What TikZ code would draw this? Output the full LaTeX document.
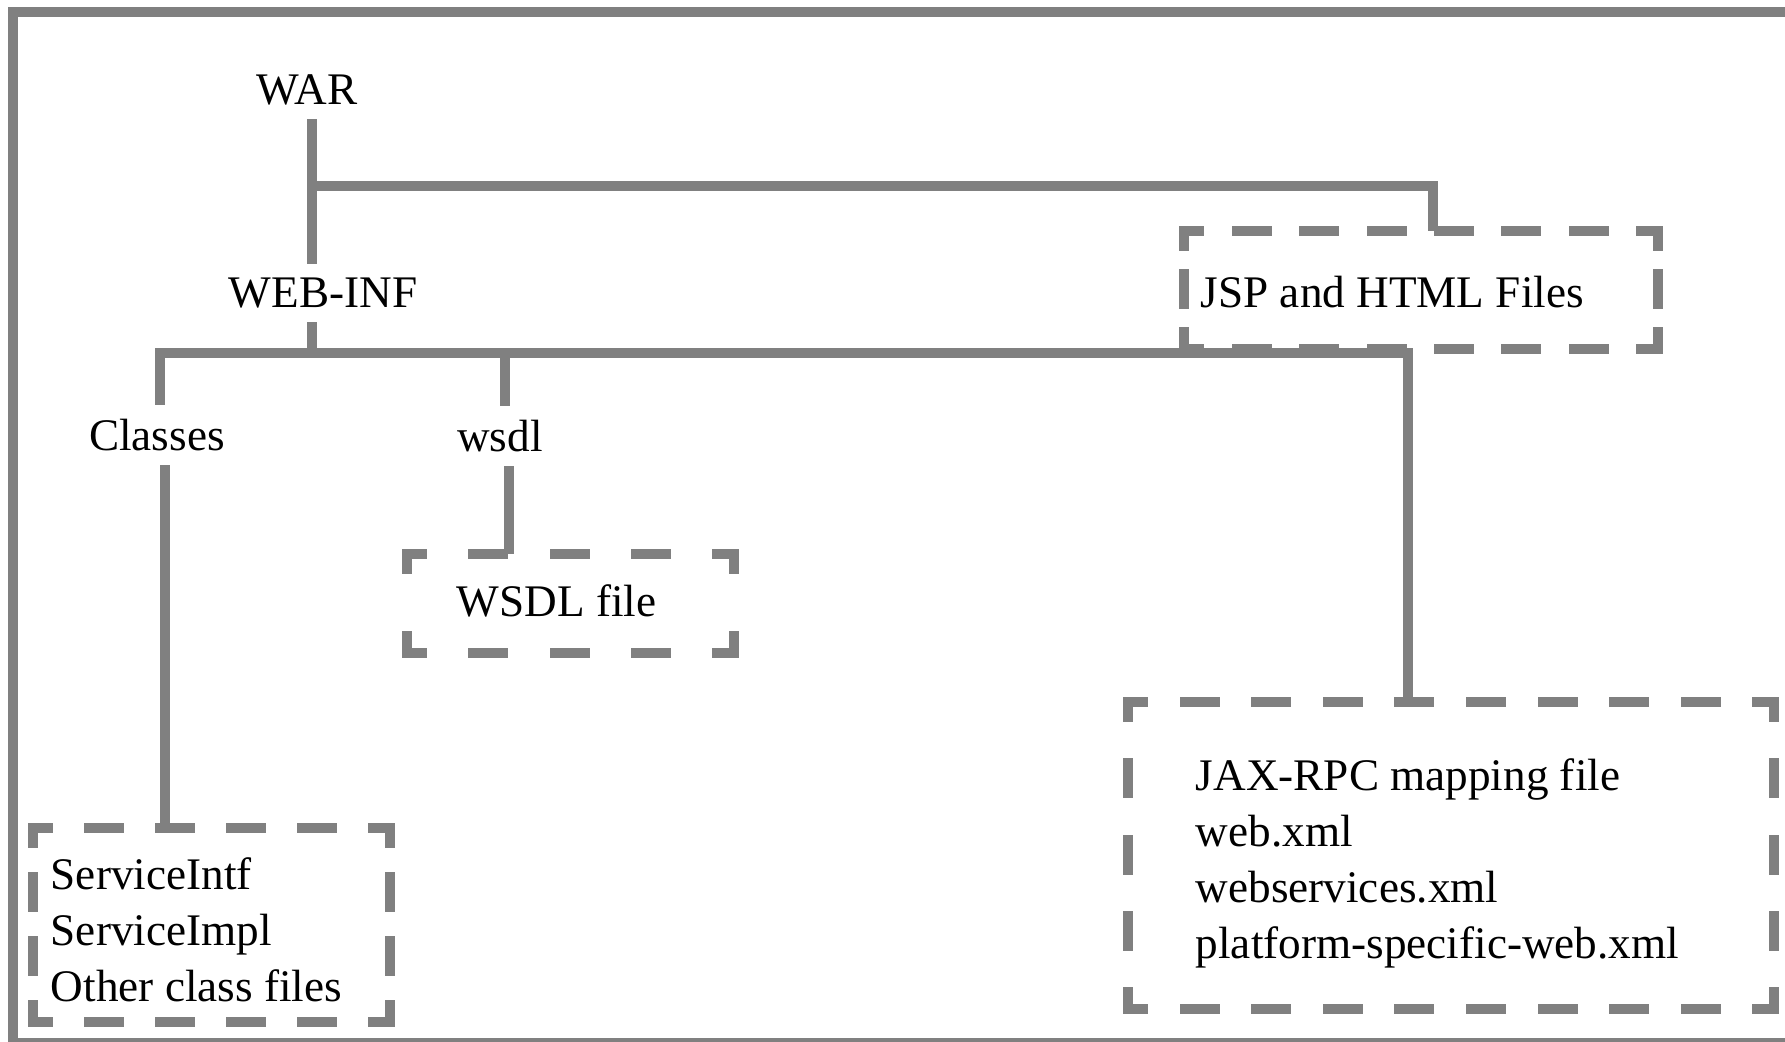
\documentclass[tikz,border=0pt]{standalone}
\usepackage{fontspec}
\setmainfont{Liberation Serif}
\usetikzlibrary{fit,calc}
\definecolor{linegray}{RGB}{128,128,128}
% dashed frame of a file box, each side with its own period
\newcommand\boxsides[3]{%
  \draw[boxside,dash pattern=on 7.5pt off #2pt] (#1.north west) -- (#1.north east);
  \draw[boxside,dash pattern=on 7.5pt off #2pt] (#1.south west) -- (#1.south east);
  \draw[boxside,dash pattern=on 7.5pt off #3pt] (#1.north west) -- (#1.south west);
  \draw[boxside,dash pattern=on 7.5pt off #3pt] (#1.north east) -- (#1.south east);
}

\begin{document}
\begin{tikzpicture}[x=0.25pt,y=-0.25pt,
  link/.style={draw=linegray,line width=2.5pt},
  boxside/.style={draw=linegray,line width=2.5pt,line cap=rect,dash phase=3.75pt},
  filebox/.style={inner sep=0pt},
  dirtext/.style={font=\fontsize{11.3}{14}\selectfont},
  listtext/.style={font=\fontsize{11.3}{14}\selectfont,align=left,inner sep=0pt,anchor=north west}]
  \useasboundingbox (0,0) rectangle (1785,1041);
  \draw[link] (1785,12) -| (13,1043) -- (1785,1043);

  \node[dirtext] (war) at (307,90) {WAR};
  \node[dirtext] (webinf) at (323,293) {WEB-INF};
  \node[dirtext] (classes) at (157,435) {Classes};
  \node[dirtext] (wsdl) at (500,436) {wsdl};

  \node[filebox,fit={(1185,232) (1657,348)}] (jspbox) {};
  \node[dirtext,anchor=west,inner sep=0pt] (jsptext) at (1200,292) {JSP and HTML Files};
  \node[filebox,fit={(408,555) (733,652)}] (wsdlbox) {};
  \node[dirtext,anchor=west,inner sep=0pt] (wsdlfile) at (456,601) {WSDL file};
  \node[filebox,fit={(34,829) (389,1021)}] (classbox) {};
  \node[listtext] (classlist) at (50,857) {ServiceIntf\\ServiceImpl\\Other class files};
  \node[filebox,fit={(1129,703) (1773,1008)}] (jaxbox) {};
  \node[listtext] (jaxlist) at (1195,758)
    {JAX-RPC mapping file\\web.xml\\webservices.xml\\platform-specific-web.xml};

  \boxsides{jspbox}{9.357}{7}
  \boxsides{wsdlbox}{12.81}{16.75}
  \boxsides{classbox}{10.25}{8.5}
  \boxsides{jaxbox}{10.389}{11.5625}

  \coordinate (warjoin) at (312,186);
  \coordinate (jspdrop) at (1433,186);
  \coordinate (webjoin) at (312,353);
  \coordinate (barleft) at (160,353);
  \coordinate (barright) at (1408,353);
  \coordinate (wsdljoin) at (505,353);
  \coordinate (wsdldrop) at (509,500);
  \coordinate (classdrop) at (165,600);

  \draw[link] (war.south -| warjoin) -- (webinf.north -| warjoin);
  \draw[link] (warjoin) -- (jspdrop) -- (jspdrop |- jspbox.north);
  \draw[link] (webinf.south -| webjoin) -- (webjoin);
  \draw[link] (classes.north -| barleft) |- (barright) -- (barright |- jaxbox.north);
  \draw[link] (wsdljoin) -- (wsdljoin |- wsdl.north);
  \draw[link] (wsdl.south -| wsdldrop) -- (wsdldrop |- wsdlbox.north);
  \draw[link] (classes.south -| classdrop) -- (classdrop |- classbox.north);
\end{tikzpicture}
\end{document}
